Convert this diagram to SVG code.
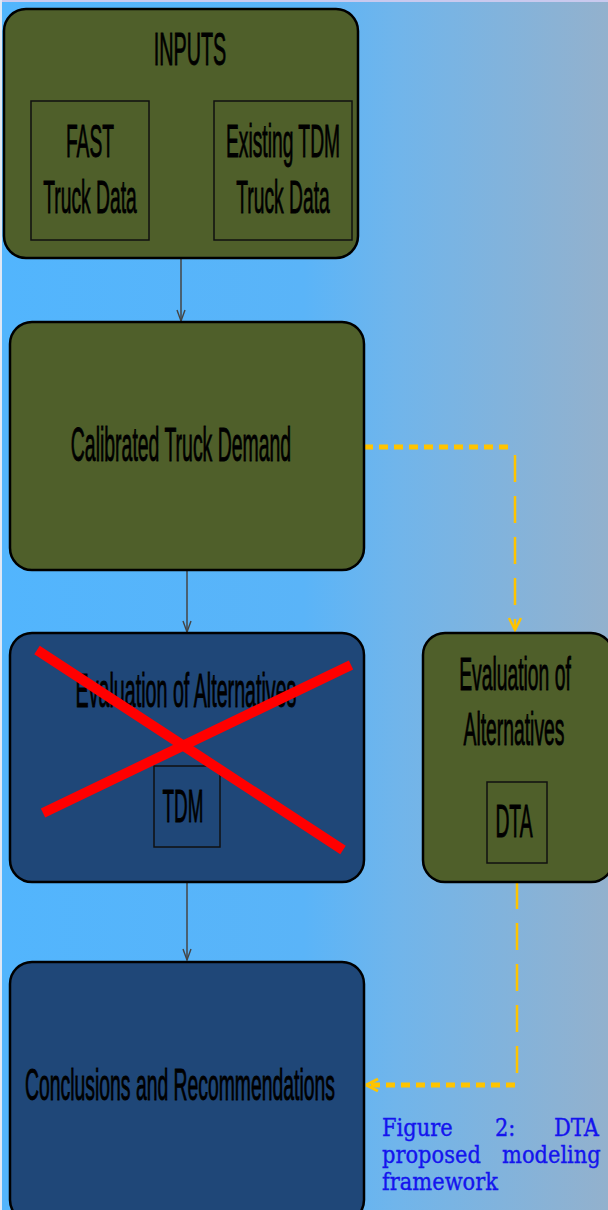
<svg xmlns="http://www.w3.org/2000/svg" width="608" height="1210" viewBox="0 0 608 1210">
<defs>
<linearGradient id="bg" x1="0" y1="0" x2="1" y2="0">
<stop offset="0" stop-color="#52b5fd"/>
<stop offset="0.5" stop-color="#5ab4f8"/>
<stop offset="0.65" stop-color="#70b5eb"/>
<stop offset="1" stop-color="#93b1cd"/>
</linearGradient>
<marker id="ah" markerWidth="14" markerHeight="10" refX="12" refY="5" orient="auto" markerUnits="userSpaceOnUse" viewBox="0 0 14 10">
<path d="M1,1 L12,5 L1,9" fill="none" stroke="#444" stroke-width="1.4"/>
</marker>
<marker id="ay" markerWidth="16" markerHeight="14" refX="14" refY="7" orient="auto" markerUnits="userSpaceOnUse" viewBox="0 0 16 14">
<path d="M2,1 L14,7 L2,13" fill="none" stroke="#ffc400" stroke-width="2.5"/>
</marker>
<marker id="ayl" markerWidth="16" markerHeight="16" refX="14" refY="8" orient="auto" markerUnits="userSpaceOnUse" viewBox="0 0 16 16">
<path d="M14,8 L2,2 M14,8 L2,14" fill="none" stroke="#ffc400" stroke-width="3"/>
</marker>
</defs>
<style>
.olive{fill:#4f5f2a;stroke:#000;stroke-width:2.5}
.blue{fill:#1f4778;stroke:#000;stroke-width:2.5}
.inner{fill:none;stroke:#111;stroke-width:1.5}
.t{font-family:"Liberation Sans",Arial,sans-serif;fill:#000;stroke:#000;stroke-width:0.9;text-anchor:middle}
.conn{stroke:#444;stroke-width:1.5;fill:none}
.ydot{stroke:#ffc400;stroke-width:5;fill:none;stroke-dasharray:9 6}
.ydash{stroke:#ffc400;stroke-width:2.5;fill:none;stroke-dasharray:27 14}
.cap{font-family:"DejaVu Serif","Liberation Serif",serif;fill:#1414ee;stroke:#1414ee;stroke-width:0.4;font-size:25px}
</style>
<rect x="0" y="0" width="608" height="1210" fill="url(#bg)"/>
<rect x="0" y="0" width="608" height="2" fill="#c9c9ee"/>
<rect x="0" y="0" width="2" height="1210" fill="#dfe8f5"/>

<g id="connectors">
<line class="conn" x1="181" y1="258" x2="181" y2="321" marker-end="url(#ah)"/>
<line class="conn" x1="187" y1="570" x2="187" y2="632" marker-end="url(#ah)"/>
<line class="conn" x1="187" y1="882" x2="187" y2="960" marker-end="url(#ah)"/>
<polyline class="ydot" points="364,447 514,447"/>
<polyline class="ydash" points="515,455 515,630" marker-end="url(#ay)"/>
<polyline class="ydash" points="517,882 517,1085"/>
<polyline class="ydot" points="515,1085 366,1085" marker-end="url(#ayl)"/>
</g>

<g id="inputs">
<rect class="olive" x="4" y="9" width="354" height="249" rx="22"/>
<text class="t" transform="translate(190,65) scale(0.43,1)" font-size="46">INPUTS</text>
<g id="fast">
<rect class="inner" x="31" y="101" width="118" height="139"/>
<text class="t" transform="translate(90,157) scale(0.41,1)" font-size="47">FAST</text>
<text class="t" transform="translate(90,213) scale(0.41,1)" font-size="47">Truck Data</text>
</g>
<g id="existing">
<rect class="inner" x="214" y="101" width="138" height="139"/>
<text class="t" transform="translate(283,157) scale(0.41,1)" font-size="47">Existing TDM</text>
<text class="t" transform="translate(283,213) scale(0.41,1)" font-size="47">Truck Data</text>
</g>
</g>

<g id="calibrated">
<rect class="olive" x="10" y="322" width="354" height="248" rx="22"/>
<text class="t" transform="translate(181,461) scale(0.405,1)" font-size="48">Calibrated Truck Demand</text>
</g>

<g id="eval-tdm">
<rect class="blue" x="10" y="633" width="354" height="249" rx="22"/>
<text class="t" transform="translate(186,707) scale(0.41,1)" font-size="48">Evaluation of Alternatives</text>
<rect class="inner" x="154" y="766" width="66" height="81"/>
<text class="t" transform="translate(183,822) scale(0.41,1)" font-size="46">TDM</text>
<g id="cross">
<line x1="37" y1="650" x2="343" y2="850" stroke="#ff0000" stroke-width="10"/>
<line x1="43" y1="813" x2="351" y2="665" stroke="#ff0000" stroke-width="10"/>
</g>
</g>

<g id="eval-dta">
<rect class="olive" x="423" y="633" width="190" height="249" rx="22"/>
<text class="t" transform="translate(515,690) scale(0.42,1)" font-size="46">Evaluation of</text>
<text class="t" transform="translate(514,745) scale(0.42,1)" font-size="46">Alternatives</text>
<rect class="inner" x="487" y="782" width="60" height="81"/>
<text class="t" transform="translate(514,837) scale(0.42,1)" font-size="46">DTA</text>
</g>

<g id="conclusions">
<rect class="blue" x="10" y="962" width="354" height="260" rx="22"/>
<text class="t" transform="translate(180,1100) scale(0.44,1)" font-size="44">Conclusions and Recommendations</text>
</g>

<g id="caption">
<text class="cap" transform="translate(382,1136) scale(0.84,1)">Figure</text>
<text class="cap" transform="translate(495,1136) scale(0.84,1)">2:</text>
<text class="cap" transform="translate(554,1136) scale(0.84,1)">DTA</text>
<text class="cap" transform="translate(382,1163) scale(0.84,1)">proposed</text>
<text class="cap" transform="translate(502,1163) scale(0.84,1)">modeling</text>
<text class="cap" transform="translate(382,1190) scale(0.84,1)">framework</text>
</g>
</svg>
